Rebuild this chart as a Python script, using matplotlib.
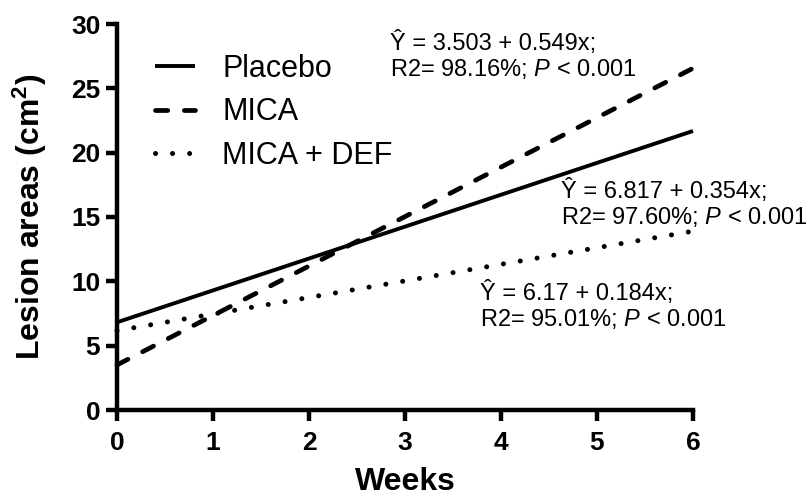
import matplotlib
matplotlib.use("Agg")
import matplotlib.pyplot as plt

# Data: fitted regression lines (values at start and end of follow-up, weeks)
weeks = [0, 6]
placebo = [6.817, 21.685]
mica = [3.503, 26.561]
mica_def = [6.17, 13.898]
series_labels = ["Placebo", "MICA", "MICA + DEF"]
eq_texts = [
    "Ŷ = 3.503 + 0.549x;\nR2= 98.16%; $\\it{P}$ < 0.001",
    "Ŷ = 6.817 + 0.354x;\nR2= 97.60%; $\\it{P}$ < 0.001",
    "Ŷ = 6.17 + 0.184x;\nR2= 95.01%; $\\it{P}$ < 0.001",
]
xticks = [0, 1, 2, 3, 4, 5, 6]
yticks = [0, 5, 10, 15, 20, 25, 30]

plt.rcParams['font.family'] = ['Liberation Sans', 'DejaVu Sans']
plt.rcParams['mathtext.fontset'] = 'custom'
plt.rcParams['mathtext.it'] = 'Liberation Sans:italic'
plt.rcParams['mathtext.rm'] = 'Liberation Sans'
plt.rcParams['mathtext.bf'] = 'Liberation Sans:bold'

W, H = 809, 499
fig = plt.figure(figsize=(W / 100, H / 100), dpi=100)
ax = fig.add_axes([117/W, 1 - 410/H, (693-117)/W, (410-24)/H])

lw = 2.8
ax.plot(weeks, placebo, color='black', lw=lw, solid_capstyle='butt', label=series_labels[0])
ax.plot(weeks, mica, color='black', lw=lw + 0.6, linestyle=(0, (2.6, 3.5)), dash_capstyle='round', label=series_labels[1])
ax.plot(weeks, mica_def, color='black', lw=lw + 0.8, linestyle=(0, (0.01, 3.4)), dash_capstyle='round', label=series_labels[2])

ax.set_xlim(0, 6)
ax.set_ylim(0, 30)
ax.set_xticks(xticks)
ax.set_yticks(yticks)
ax.spines['top'].set_visible(False)
ax.spines['right'].set_visible(False)
for s in ['left', 'bottom']:
    ax.spines[s].set_linewidth(3.2)
    ax.spines[s].set_capstyle('projecting')
ax.tick_params(axis='both', width=3.2, length=8, labelsize=19)
ax.tick_params(axis='x', pad=7)
ax.tick_params(axis='y', pad=4)
for lab in ax.get_xticklabels() + ax.get_yticklabels():
    lab.set_fontweight('bold')
for line in ax.get_lines():
    line.set_clip_on(False)

ax.set_xlabel("Weeks", fontsize=23, fontweight='bold', labelpad=9)
ax.set_ylabel("Lesion areas (cm$\\mathbf{^2}$)", fontsize=23, fontweight='bold', labelpad=16)

leg = ax.legend(loc='upper left', bbox_to_anchor=(0.045, 0.955), frameon=False,
                fontsize=22, handlelength=1.3, handletextpad=0.9, labelspacing=0.45,
                borderaxespad=0)

def put(x, y_top, s):
    fig.text(x / W, 1 - y_top / H, s, fontsize=17, va='center', ha='left', linespacing=1.15)

put(390, 56, eq_texts[0])
put(561, 204, eq_texts[1])
put(480, 306, eq_texts[2])

fig.savefig("out.png", dpi=100)
